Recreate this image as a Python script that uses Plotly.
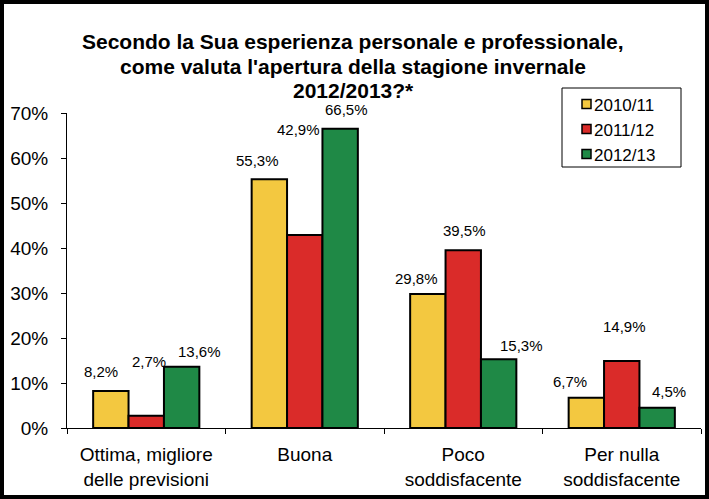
import plotly.graph_objects as go

# Dati
categorie = ["Ottima, migliore<br>delle previsioni", "Buona", "Poco<br>soddisfacente", "Per nulla<br>soddisfacente"]
stagioni = ["2010/11", "2011/12", "2012/13"]
v_2010_11 = [8.2, 55.3, 29.8, 6.7]
v_2011_12 = [2.7, 42.9, 39.5, 14.9]
v_2012_13 = [13.6, 66.5, 15.3, 4.5]
colori = ["#F3C840", "#DA2B29", "#1F8946"]
titolo = [
    "Secondo la Sua esperienza personale e professionale,",
    "come valuta l'apertura della stagione invernale",
    "2012/2013?*",
]

serie = [v_2010_11, v_2011_12, v_2012_13]

# spostamento etichette (px) rispetto al centro della cima della barra
lab_dx = [[-10, -12, -11, -16], [3, -6, 1, 3], [18, 6, 23, 12]]
lab_dy = [[20, 19, 15, 16], [54, 105, 20, 34], [15, 19, 14, 16]]
larg_barra = 35.5

font = "Liberation Sans, Arial, sans-serif"

# area del grafico in pixel
L, R, T, B = 67, 701, 113, 428
W, H = R - L, B - T


def px(x):
    return (x - L) / W


def py(y):
    return (B - y) / H


fig = go.Figure()
for nome, vals, col in zip(stagioni, serie, colori):
    fig.add_trace(go.Bar(
        name=nome,
        x=categorie,
        y=[v / 100 for v in vals],
        marker=dict(color=col, line=dict(color="black", width=2)),
        showlegend=False,
    ))

# etichette dati
for i, vals in enumerate(serie):
    for j, v in enumerate(vals):
        fig.add_annotation(
            x=categorie[j], y=v / 100, xref="x", yref="y",
            text=f"{v:.1f}".replace(".", ",") + "%",
            showarrow=False,
            xshift=(i - 1) * larg_barra + lab_dx[i][j],
            yshift=lab_dy[i][j],
            font=dict(size=15, color="black", family=font),
        )

# titolo
for k, riga in enumerate(titolo):
    fig.add_annotation(
        x=px(353), y=py(42 + 24 * k), xref="paper", yref="paper",
        text="<b>" + riga + "</b>", showarrow=False,
        xanchor="center", yanchor="middle",
        font=dict(size=21, color="black", family=font),
    )

# legenda
fig.add_shape(type="rect", xref="paper", yref="paper",
              x0=px(562), x1=px(681), y0=py(167), y1=py(88),
              line=dict(color="black", width=1), fillcolor="white")
for k, (nome, col) in enumerate(zip(stagioni, colori)):
    yc = 104 + 25 * k
    fig.add_shape(type="rect", xref="paper", yref="paper",
                  x0=px(582), x1=px(591), y0=py(yc + 4.5), y1=py(yc - 4.5),
                  line=dict(color="black", width=1.5), fillcolor=col)
    fig.add_annotation(
        x=px(592), y=py(yc + 1), xref="paper", yref="paper",
        text=nome, showarrow=False, xanchor="left", yanchor="middle",
        font=dict(size=17, color="black", family=font),
    )

fig.update_layout(
    width=709, height=499,
    margin=dict(l=L, r=709 - R, t=T, b=499 - B),
    paper_bgcolor="white", plot_bgcolor="white",
    font=dict(family=font, color="black", size=19),
    barmode="group", bargap=0.33, bargroupgap=0,
    showlegend=False,
)

fig.update_xaxes(
    showline=True, linecolor="black", linewidth=1,
    ticks="outside", tickson="boundaries", ticklen=5, tickcolor="black",
    tickfont=dict(size=19), ticklabelstandoff=9,
    showgrid=False,
)
fig.update_yaxes(
    range=[0, 0.7], dtick=0.1, tickformat=".0%",
    showline=True, linecolor="black", linewidth=1,
    ticks="outside", ticklen=5, tickcolor="black",
    tickfont=dict(size=19), ticklabelstandoff=9,
    showgrid=False, zeroline=False,
)

# cornice nera esterna
fig.add_shape(
    type="rect", xref="paper", yref="paper",
    x0=px(2), x1=px(707), y0=py(497), y1=py(2),
    line=dict(color="black", width=4),
)

fig.write_html("out.html", config={"displayModeBar": False},
               post_script="document.body.style.margin='0';")
